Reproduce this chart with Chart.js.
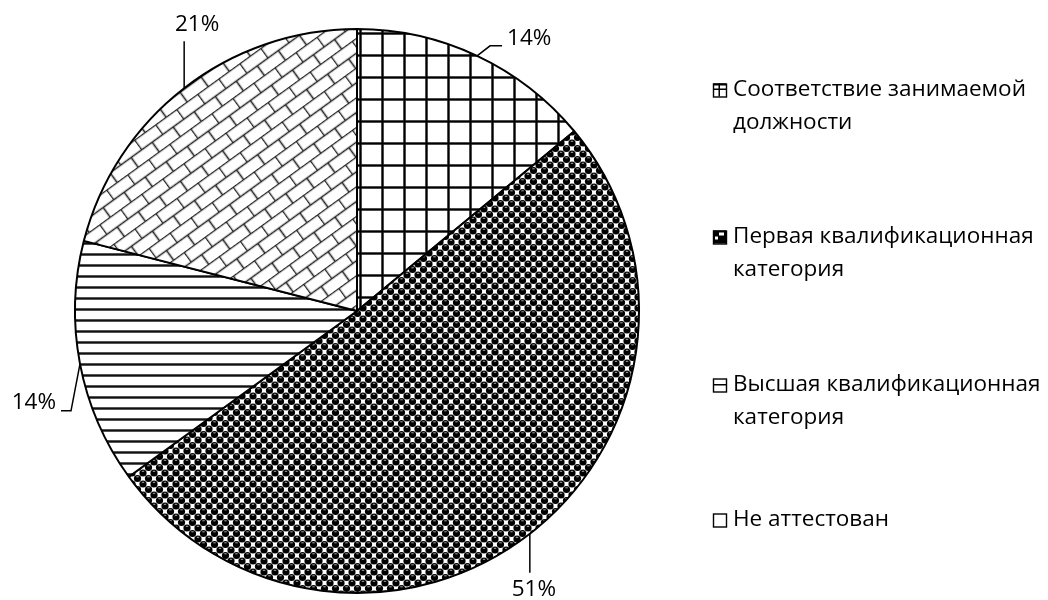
<!DOCTYPE html>
<html><head><meta charset="utf-8">
<script src="https://cdn.jsdelivr.net/npm/chart.js@4/dist/chart.umd.min.js"></script>
<style>html,body{margin:0;padding:0;background:#fff}#wrap{width:1048px;height:600px;position:relative}</style>
</head><body><div id="wrap"><canvas id="c" width="1048" height="600"></canvas></div>
<script>
const categories = ["Соответствие занимаемой должности","Первая квалификационная категория","Высшая квалификационная категория","Не аттестован"];
const values = [14, 51, 14, 21];
const valueLabels = ["14%","51%","14%","21%"];

const FONT = "'Open Sans', 'Noto Sans', sans-serif";

function mk(w,h,draw){const c=document.createElement('canvas');c.width=w;c.height=h;const x=c.getContext('2d');x.fillStyle='#fff';x.fillRect(0,0,w,h);draw(x,w,h);return c;}
const tiles = [
  mk(22,22,(x,w,h)=>{x.fillStyle='#999';x.fillRect(0,0,3,h);x.fillRect(0,0,w,3);x.fillStyle='#000';x.fillRect(0.5,0,2,h);x.fillRect(0,0.5,w,2);}),
  mk(11,11,(x,w,h)=>{
     [[0,0],[11,0],[0,11],[11,11],[5.5,5.5]].forEach(p=>{
       x.fillStyle='#000';x.beginPath();x.arc(p[0],p[1],3.6,0,Math.PI*2);x.fill();
       x.fillStyle='#aaa';x.fillRect(p[0]-1.2,p[1]-2.2,2.4,1);});
     x.strokeStyle='#888';x.lineWidth=0.6;}),
  mk(11,11,(x,w,h)=>{x.fillStyle='#999';x.fillRect(0,0,w,3);x.fillStyle='#111';x.fillRect(0,0.5,w,2);}),
  mk(26,24,(x,w,h)=>{x.strokeStyle='#222';x.lineWidth=1.6;x.beginPath();x.moveTo(0,0.5);x.lineTo(w,0.5);x.moveTo(0,12.5);x.lineTo(w,12.5);x.moveTo(0.5,0);x.lineTo(0.5,12.5);x.moveTo(13.5,12.5);x.lineTo(13.5,24);x.stroke();})
];
const ctx = document.getElementById('c').getContext('2d');
const patterns = tiles.map((t,i)=>{const p=ctx.createPattern(t,'repeat');
  if(i===0) p.setTransform(new DOMMatrix().translate(7,10));
  if(i===3) p.setTransform(new DOMMatrix().rotate(-36));
  return p;});

// label leader layout (relative to arc mid-point anchor)
const leaders = [
  {pts:[[13,-10],[25,-10]], text:[30,-17], align:'left'},
  {pts:[[0,39]], text:[4,56], align:'center'},
  {pts:[[-9,47],[-19,47]], text:[-24,39], align:'right'},
  {pts:[[0,-47]], text:[13,-64], align:'center'}
];
const legendCfg = {markX:713, textX:733, lineH:33, firstLineY:[90,237,385,520], size:13, maxW:315};

const labelPlugin = {
  id:'labels',
  afterDraw(chart){
    const c=chart.ctx; const meta=chart.getDatasetMeta(0);
    c.save();
    c.font = "22.5px "+FONT; c.fillStyle='#000'; c.strokeStyle='#000'; c.lineWidth=1.5;
    meta.data.forEach((arc,i)=>{
      const mid=(arc.startAngle+arc.endAngle)/2;
      const ax=arc.x+Math.cos(mid)*arc.outerRadius, ay=arc.y+Math.sin(mid)*arc.outerRadius;
      const L=leaders[i];
      c.beginPath();c.moveTo(ax,ay);L.pts.forEach(p=>c.lineTo(ax+p[0],ay+p[1]));c.stroke();
      c.textAlign=L.align;c.textBaseline='middle';
      c.fillText(valueLabels[i],ax+L.text[0],ay+L.text[1]);
    });
    // legend
    c.textAlign='left';c.textBaseline='middle';
    categories.forEach((name,i)=>{
      const y=legendCfg.firstLineY[i];
      const words=name.split(' ');const lines=[];let cur='';
      words.forEach(w=>{const t=cur?cur+' '+w:w; if(c.measureText(t).width>legendCfg.maxW&&cur){lines.push(cur);cur=w;}else cur=t;});
      if(cur)lines.push(cur);
      lines.forEach((ln,k)=>c.fillText(ln,legendCfg.textX,y+k*legendCfg.lineH));
      const s=legendCfg.size, mx=legendCfg.markX, my=y-s/2;
      c.fillStyle='#fff';c.fillRect(mx,my,s,s);
      c.fillStyle='#000';
      if(i===0){c.fillRect(mx,my,s,2);c.fillRect(mx,my+5,s,1.5);c.fillRect(mx+5.5,my,1.5,s);}
      if(i===1){c.fillRect(mx,my,s,s);c.fillStyle='#fff';c.fillRect(mx+6,my+2,5,3);c.fillRect(mx+2,my+6,3,3);c.fillStyle='#000';}
      if(i===2){c.fillRect(mx,my+5.5,s,1.5);}
      c.lineWidth=1.4;c.strokeRect(mx+0.5,my+0.5,s,s);
    });
    c.restore();
  }
};

new Chart(ctx,{
  type:'pie',
  data:{labels:categories,datasets:[{data:values,backgroundColor:patterns,borderColor:'#000',borderWidth:2}]},
  options:{responsive:false,animation:false,devicePixelRatio:1,
    layout:{padding:{left:74,top:28,right:408,bottom:6}},
    plugins:{legend:{display:false},tooltip:{enabled:false}}},
  plugins:[labelPlugin]
});
</script></body></html>
